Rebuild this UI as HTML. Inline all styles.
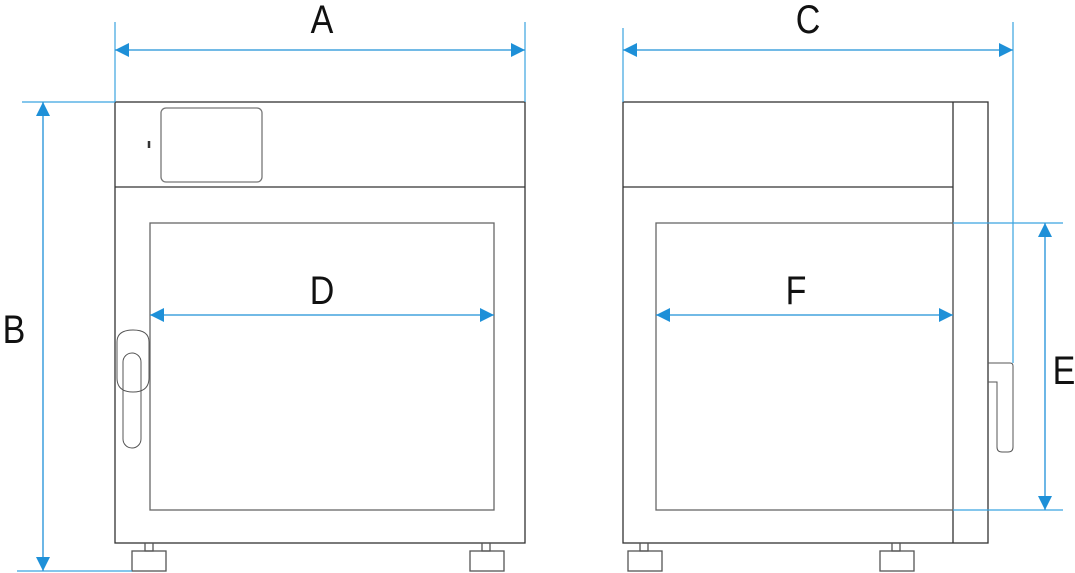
<!DOCTYPE html>
<html><head><style>html,body{margin:0;padding:0;background:#fff}svg{display:block}</style></head>
<body>
<svg width="1075" height="573" viewBox="0 0 1075 573" xmlns="http://www.w3.org/2000/svg">
<defs>
<marker id="ah" viewBox="0 0 14 14" refX="14" refY="7" markerWidth="14" markerHeight="14" markerUnits="userSpaceOnUse" orient="auto-start-reverse">
<path d="M0,0 L14,7 L0,14 Z" fill="#1e90d8"/></marker>
</defs>
<g fill="none" stroke="#333" stroke-width="1.3">
<!-- front -->
<rect x="115" y="102" width="410" height="441"/>
<line x1="115" y1="187" x2="525" y2="187"/>
<rect x="161" y="108" width="101" height="74" rx="5" stroke="#777"/>
<line x1="149" y1="141" x2="149" y2="148" stroke-width="2.5"/>
<rect x="150" y="223" width="344" height="287" stroke="#666"/>
<path d="M117,342 Q117,330 133,330 Q149,330 149,342 L149,378 Q149,392 133,392 Q117,392 117,378 Z" stroke="#555" stroke-width="1"/>
<rect x="123" y="353" width="18" height="95" rx="9" stroke="#555" stroke-width="1"/>
<rect x="145" y="543" width="8" height="8" stroke="#555"/>
<rect x="132" y="551" width="34" height="20" stroke="#555"/>
<rect x="482" y="543" width="8" height="8" stroke="#555"/>
<rect x="470" y="551" width="34" height="20" stroke="#555"/>
<!-- side -->
<rect x="623" y="102" width="365" height="441"/>
<line x1="623" y1="187" x2="953" y2="187"/>
<line x1="953" y1="102" x2="953" y2="543"/>
<rect x="656" y="223" width="297" height="287" stroke="#666"/>
<path d="M988,363 L1010,363 Q1013,363 1013,366 L1013,447 Q1013,452 1008,452 L1002,452 Q997,452 997,447 L997,382 L988,382" stroke="#555" stroke-width="1"/>
<rect x="640" y="543" width="8" height="8" stroke="#555"/>
<rect x="628" y="551" width="34" height="20" stroke="#555"/>
<rect x="892" y="543" width="8" height="8" stroke="#555"/>
<rect x="880" y="551" width="34" height="20" stroke="#555"/>
</g>
<g stroke="#3aa3e0" stroke-width="1.2" fill="none">
<line x1="115" y1="22" x2="115" y2="102"/>
<line x1="525" y1="22" x2="525" y2="102"/>
<line x1="22" y1="102" x2="115" y2="102"/>
<line x1="17" y1="571" x2="132" y2="571"/>
<line x1="623" y1="28" x2="623" y2="102"/>
<line x1="1013" y1="22" x2="1013" y2="363"/>
<line x1="953" y1="223" x2="1063" y2="223"/>
<line x1="953" y1="510" x2="1063" y2="510"/>
</g>
<g stroke="#1e90d8" stroke-width="1.3" fill="none">
<line x1="115" y1="50" x2="525" y2="50" marker-start="url(#ah)" marker-end="url(#ah)"/>
<line x1="43" y1="102" x2="43" y2="571" marker-start="url(#ah)" marker-end="url(#ah)"/>
<line x1="150" y1="315" x2="494" y2="315" marker-start="url(#ah)" marker-end="url(#ah)"/>
<line x1="623" y1="50" x2="1013" y2="50" marker-start="url(#ah)" marker-end="url(#ah)"/>
<line x1="656" y1="315" x2="953" y2="315" marker-start="url(#ah)" marker-end="url(#ah)"/>
<line x1="1045" y1="223" x2="1045" y2="510" marker-start="url(#ah)" marker-end="url(#ah)"/>
</g>
<g font-family="Liberation Sans, sans-serif" font-size="40" fill="#111" text-anchor="middle">
<text x="322" y="33" transform="translate(322 0) scale(0.85 1) translate(-322 0)">A</text>
<text x="14" y="343" transform="translate(14 0) scale(0.85 1) translate(-14 0)">B</text>
<text x="322" y="304" transform="translate(322 0) scale(0.85 1) translate(-322 0)">D</text>
<text x="808" y="33" transform="translate(808 0) scale(0.85 1) translate(-808 0)">C</text>
<text x="796" y="304" transform="translate(796 0) scale(0.85 1) translate(-796 0)">F</text>
<text x="1064" y="384" transform="translate(1064 0) scale(0.85 1) translate(-1064 0)">E</text>
</g>
</svg>
</body></html>
